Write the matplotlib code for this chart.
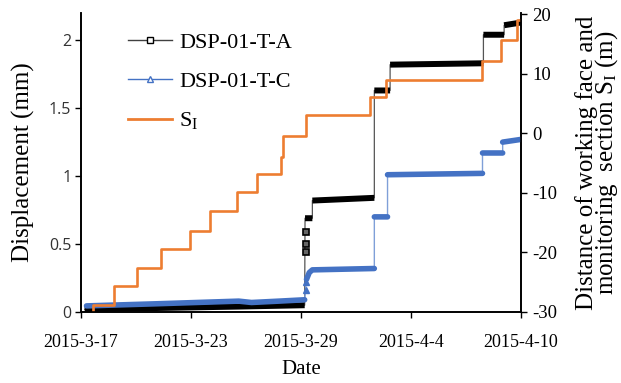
import numpy as np
import pandas as pd
import matplotlib
matplotlib.use("Agg")
import matplotlib.pyplot as plt
from matplotlib.lines import Line2D

# Data (days counted from 2015-3-17 00:00, NaN splits the plateaus)
#================================================================================================================
START = pd.Timestamp("2015-03-17")

a_days = [0.2, 8.6, 12.2, np.nan, 12.22, 12.62, np.nan, 12.62, 16.0, np.nan, 16.0, 16.86, np.nan,
          16.86, 21.95, np.nan, 21.95, 23.08, np.nan, 23.08, 24.0]
a_vals = [0.02, 0.04, 0.05, np.nan, 0.69, 0.69, np.nan, 0.82, 0.84, np.nan, 1.63, 1.63, np.nan,
          1.82, 1.83, np.nan, 2.04, 2.04, np.nan, 2.11, 2.13]
a_jump_days = [12.26, 12.26, 12.26]
a_jump_vals = [0.44, 0.50, 0.59]

c_days = [0.3, 4.0, 8.6, 9.3, 10.8, 12.2, np.nan, 12.3, 12.45, 12.62, 16.0, np.nan, 16.0, 16.72, np.nan,
          16.72, 21.9, np.nan, 21.9, 23.0, np.nan, 23.0, 24.0]
c_vals = [0.045, 0.06, 0.08, 0.07, 0.08, 0.09, np.nan, 0.24, 0.29, 0.31, 0.32, np.nan, 0.70, 0.70, np.nan,
          1.01, 1.02, np.nan, 1.17, 1.17, np.nan, 1.25, 1.27]
c_jump_days = [12.26, 12.26]
c_jump_vals = [0.16, 0.22]

s_days = [0.65, 0.65, 1.80, 3.06, 4.35, 5.96, 7.05, 8.53, 9.58, 10.91, 11.0, 12.27, 15.77, 16.64,
          21.86, 22.91, 23.80, 24.04]
s_vals = [-30, -28.8, -25.6, -22.6, -19.4, -16.4, -13.1, -9.9, -6.9, -3.9, -0.4, 3.0, 6.1, 9.0,
          12.1, 15.6, 19.1, 19.1]

tick_dates = ["2015-03-17", "2015-03-23", "2015-03-29", "2015-04-04", "2015-04-10"]


def to_dates(days):
    return START + pd.to_timedelta(np.asarray(days, dtype=float), unit="D")


# Styles
#================================================================================================================
plt.rcParams["font.family"] = ["Liberation Serif", "DejaVu Serif"]
plt.rcParams["mathtext.fontset"] = "custom"
plt.rcParams["mathtext.rm"] = "Liberation Serif"
plt.rcParams["mathtext.it"] = "Liberation Serif:italic"

BLACK = "#000000"
BLUE = "#4472C4"
ORANGE = "#ED7D31"

fig = plt.figure(figsize=(6.21, 3.83), dpi=100)
ax2 = fig.add_axes([81 / 621, 1 - 312 / 383, 440 / 621, 299 / 383])
ax = ax2.twinx()  # displacement drawn under the S_I step line
ax.yaxis.tick_left()
ax.yaxis.set_label_position("left")
ax2.yaxis.tick_right()
ax2.yaxis.set_label_position("right")

# Displacement series: thin connector + thick plateau band
a_x, a_y = np.array(a_days), np.array(a_vals)
ok = ~np.isnan(a_x)
ax.plot(to_dates(a_x[ok]), a_y[ok], color="#555555", lw=0.9, zorder=3)
ax.plot(to_dates(a_x), a_y, color=BLACK, lw=4.3, solid_capstyle="butt", zorder=4)
ax.plot(to_dates(a_jump_days), a_jump_vals, ls="none", marker="s", ms=4, mfc="#666666",
        mec=BLACK, mew=1.2, zorder=4)

c_x, c_y = np.array(c_days), np.array(c_vals)
ok = ~np.isnan(c_x)
ax.plot(to_dates(c_x[ok]), c_y[ok], color="#7F9FD8", lw=1.0, zorder=5)
ax.plot(to_dates(c_x), c_y, color=BLUE, lw=4.0, solid_capstyle="round", zorder=6)
ax.plot(to_dates(c_jump_days), c_jump_vals, ls="none", marker="^", ms=5, mfc=BLUE,
        mec=BLUE, zorder=6)

# Distance S_I on the right axis, on top
ax2.set_zorder(ax.get_zorder() + 1)
ax2.patch.set_visible(False)
ax2.step(to_dates(s_days), s_vals, where="post", color=ORANGE, lw=1.9, zorder=2)

# Axes
#================================================================================================================
for a in (ax, ax2):
    a.set_xlim(START, pd.Timestamp("2015-04-10"))
ax.set_ylim(0, 2.2)
ax2.set_ylim(-30, 20.2)

ax2.set_xticks(pd.to_datetime(tick_dates))
ax2.set_xticklabels([f"{d.year}-{d.month}-{d.day}" for d in pd.to_datetime(tick_dates)], fontsize=13)
ax.set_yticks([0, 0.5, 1, 1.5, 2])
ax.set_yticklabels(["0", "0.5", "1", "1.5", "2"], fontsize=11.5, family="Open Sans", color="#333333")
ax2.set_yticks([-30, -20, -10, 0, 10, 20])
ax2.set_yticklabels(["-30", "-20", "-10", "0", "10", "20"], fontsize=13.5)

for a in (ax, ax2):
    a.tick_params(direction="out", length=4, width=1.0, pad=3)
    a.spines["top"].set_visible(False)
    for s in ("left", "right", "bottom"):
        a.spines[s].set_linewidth(1.2)
ax2.tick_params(axis="x", pad=12)
ax2.tick_params(axis="y", pad=4)

ax2.set_xlabel("Date", fontsize=15, labelpad=6)
ax.set_ylabel("Displacement (mm)", fontsize=18, labelpad=10)
ax2.set_ylabel("Distance of working face and\nmonitoring  section S$_\\mathrm{I}$ (m)",
               fontsize=18, labelpad=13, linespacing=0.72)

handles = [
    Line2D([], [], color="#404040", lw=1.0, marker="s", ms=4, mfc="white", mec=BLACK),
    Line2D([], [], color=BLUE, lw=1.0, marker="^", ms=4, mfc="white", mec=BLUE),
    Line2D([], [], color=ORANGE, lw=2.0),
]
ax2.legend(handles, ["DSP-01-T-A", "DSP-01-T-C", "S$_\\mathrm{I}$"], loc="upper left",
           bbox_to_anchor=(128 / 621, 1 - 32 / 383), bbox_transform=fig.transFigure,
           frameon=False, fontsize=16, borderpad=0, borderaxespad=0, handlelength=2.0,
           handletextpad=0.3, labelspacing=0.84)

fig.savefig("out.png", dpi=100)
